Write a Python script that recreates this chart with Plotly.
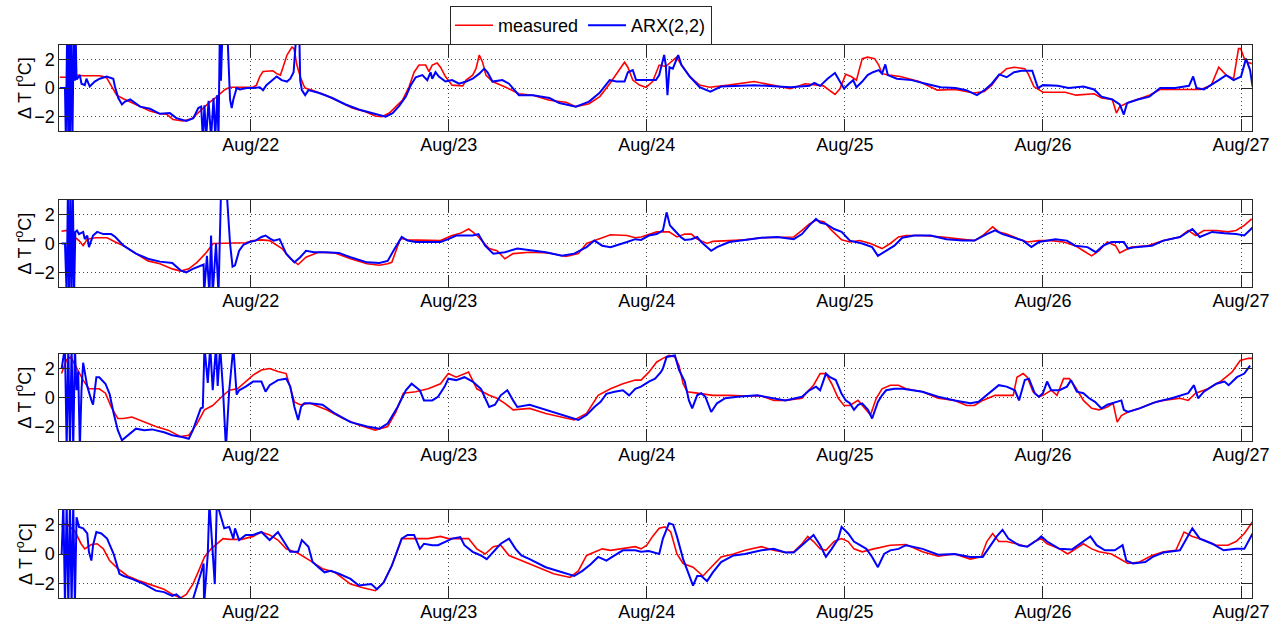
import datetime as dt
import plotly.graph_objects as go
from plotly.subplots import make_subplots

BASE = dt.datetime(2012, 8, 21, 0, 0)
X_RANGE_H = [0.81, 145.33]
Y_RANGE = [-3, 3]
Y_TICKS = [-2, 0, 2]
X_TICK_DAYS = [22, 23, 24, 25, 26, 27]
Y_TITLE = "Δ T [<sup>o</sup>C]"

# ---- panel 1 (hours since Aug/21 00:00, deg C) ----
p1_meas_h = [0.85,1.7,1.9,2.5,2.9,3.7,5.7,6.14,6.55,7.15,7.76,8.57,9.78,11.8,13.0,13.8,14.6,15.8,16.85,17.9,18.9,19.9,20.9,21.5,24.3,24.7,25.1,25.5,26.7,27.15,27.6,27.95,28.4,29.0,29.25,29.6,30.0,30.4,30.6,31.45,33.1,34.7,36.3,37.9,39.1,39.9,40.8,41.6,42.4,43.2,43.8,44.4,45.2,45.6,46.0,46.6,47.0,47.6,48.4,49.7,50.1,50.9,51.3,51.7,52.1,52.5,53.3,54.9,56.5,58.2,60.2,62.2,63.4,65.0,66.3,67.5,68.7,69.3,69.7,70.3,71.1,71.9,72.7,73.5,74.3,75.6,76.2,77.2,78.4,79.6,81.9,85.0,87.2,89.4,91.2,93.4,94.8,95.4,96.1,96.75,97.4,98.1,98.75,99.6,100.1,100.5,101.4,102.7,105.0,107.2,109.4,111.6,112.9,113.8,114.7,115.6,116.5,117.8,118.2,118.9,120.0,122.7,124.0,126.2,127.1,128.4,128.9,129.3,130.2,131.5,132.9,134.2,136.0,137.7,139.1,140.4,141.3,142.2,143.1,143.7,143.95,144.4,144.8,145.3]
p1_meas_v = [0.75,0.75,1.15,1.1,0.9,0.85,0.85,0.8,0.7,0.1,-0.5,-0.75,-1.05,-1.6,-1.8,-1.82,-2.2,-2.3,-2.15,-1.6,-1.05,-0.6,-0.1,0.05,0.05,0.2,0.8,1.15,1.2,1.0,0.9,1.5,2.3,2.85,2.75,1.6,0.8,0.2,0.0,-0.15,-0.5,-0.95,-1.4,-1.65,-1.95,-2.0,-1.75,-1.3,-0.85,0.1,1.1,1.6,1.6,1.15,1.6,1.75,1.45,0.8,0.2,0.15,0.55,0.9,1.35,2.3,1.8,0.9,0.45,0.05,-0.4,-0.5,-0.85,-1.0,-1.3,-1.1,-0.6,0.3,1.35,1.8,1.45,0.55,0.2,0.05,0.45,1.6,1.5,2.15,1.6,0.8,0.2,0.05,0.2,0.45,0.2,-0.05,0.3,0.15,-0.45,-0.05,0.95,0.8,0.55,2.05,2.15,2.05,1.6,1.0,0.9,0.8,0.45,-0.15,-0.1,-0.35,-0.25,0.2,0.9,1.35,1.45,1.35,1.0,0.1,-0.3,-0.3,-0.5,-0.4,-0.7,-0.8,-1.75,-1.3,-1.05,-0.8,-0.5,-0.1,-0.1,-0.15,-0.1,0.2,1.45,0.9,0.65,2.75,2.75,2.05,1.8,1.7]
p1_arx_h = [0.85,1.5,1.6,1.75,1.9,2.0,2.1,2.25,2.4,2.55,2.7,2.8,2.9,3.0,3.3,3.5,3.9,4.1,4.5,5.1,5.7,6.55,7.35,7.55,7.96,8.4,8.77,9.4,10.6,11.8,13.0,14.2,15.0,16.2,17.05,17.65,18.0,18.2,18.4,18.6,18.9,19.2,19.5,19.7,19.95,20.1,20.25,20.4,20.55,21.2,21.5,21.7,21.9,22.3,22.7,23.5,24.3,25.1,25.5,25.9,27.15,27.75,28.4,28.8,29.2,29.5,29.9,30.0,30.2,30.6,31.0,32.3,33.9,35.5,37.1,38.7,40.35,41.2,42.0,42.8,43.4,44.0,44.8,45.4,45.8,46.0,46.4,46.8,47.6,48.4,49.25,50.1,50.9,51.7,52.3,52.7,53.3,54.5,55.3,56.5,58.2,60.2,61.4,63.4,65.0,66.25,67.5,68.3,69.3,69.7,70.3,70.7,71.9,73.1,73.5,74.1,74.3,74.5,74.75,75.15,75.8,76.2,77.2,78.4,79.7,81.0,85.0,87.2,89.4,91.7,92.3,93.0,93.9,94.8,95.4,95.9,96.5,97.0,97.4,98.1,98.75,99.4,100.1,100.5,100.9,101.2,102.3,104.1,105.8,107.6,109.4,110.7,112.0,112.9,113.8,114.7,115.6,116.5,117.4,118.7,119.4,120.0,121.8,123.1,124.9,126.2,127.1,128.4,129.3,129.8,130.2,131.5,132.9,134.2,136.0,137.7,138.2,138.6,139.5,140.4,141.3,142.2,143.1,144.0,144.6,145.1,145.4]
p1_arx_v = [0,0,-3.5,3.5,-3.5,3.5,-3.5,3.5,-3.5,3.5,0.5,3.5,0.6,0.65,0.9,0.3,0.2,0.65,0.1,0.45,0.65,0.8,0.65,0.1,-0.7,-1.15,-0.95,-0.8,-1.3,-1.45,-1.8,-1.75,-2.1,-2.3,-2.1,-1.4,-1.3,-3.5,-1.2,-3.5,-0.9,-3.5,-0.7,-3.5,-0.5,-3.5,3.5,0.5,3.5,3.5,-0.8,-1.4,-0.8,0,-0.1,0,0,0.05,-0.15,0.2,0.8,0.55,0.45,0.65,1.1,3.5,3.5,0.55,-0.15,-0.5,-0.15,-0.35,-0.7,-1.15,-1.5,-1.75,-2.0,-1.75,-1.25,-0.6,0.2,0.75,0.9,0.55,1.1,0.65,1.1,0.8,0.45,0.55,0.3,0.45,0.65,1.0,1.35,1.1,0.45,0.55,0.3,-0.5,-0.5,-0.7,-1.05,-1.3,-0.95,-0.35,0.55,0.45,0.45,1.1,1.25,0.55,0.55,0.55,0.9,2.3,1.6,-0.5,1.45,1.35,2.3,1.6,0.8,0.05,-0.25,0.1,0.2,0.15,0.05,0.15,0.35,0.15,0.65,1.05,0.45,-0.05,0.3,0.55,0.05,0.45,0.9,1.1,1.25,1.0,1.65,0.9,0.65,0.55,0.3,0.05,0,-0.15,-0.5,-0.15,0.3,0.95,0.75,1.1,1.2,1.2,0,0.2,0.15,0,0.1,-0.1,-0.6,-0.8,-1.15,-1.85,-1.05,-0.8,-0.6,0,0,0.15,0.8,0,-0.1,0.2,0.55,0.9,0.55,0.8,2.05,1.25,0.1]

# ---- panel 2 ----
p2_meas_h = [1.08,1.7,2.46,3.2,3.7,4.2,5.2,6.6,7.6,8.6,10.1,11.55,13.0,14.5,15.5,16.5,17.5,18.5,19.45,20.4,21.4,22.4,23.4,24.3,25.3,26.3,27.8,28.8,29.75,30.7,32.2,34.2,36.1,38.1,39.6,40.6,41.1,42.05,42.3,43.0,45.5,47.0,48.4,49.4,50.4,50.9,51.6,52.9,53.85,54.8,55.8,57.8,60.2,62.2,63.7,64.7,66.1,67.6,69.6,70.6,71.3,72.25,73.2,74.7,75.65,76.6,77.4,78.1,79.3,80.0,82.0,83.9,85.9,87.8,89.8,90.8,91.7,92.5,93.45,94.4,95.6,96.6,97.8,99.1,100.5,101.5,102.5,103.4,105.4,107.8,110.3,111.7,112.7,113.9,114.65,115.6,117.1,118.1,119.5,121.0,122.5,123.9,124.9,125.9,126.8,127.8,128.8,129.3,129.8,130.7,132.7,134.6,136.6,137.6,138.5,139.5,141.0,142.4,143.4,144.4,145.3]
p2_meas_v = [0.85,0.9,0.55,0.2,-0.15,0.3,0.4,0.4,0.1,-0.15,-0.7,-1.2,-1.4,-1.75,-1.9,-1.75,-1.3,-0.7,0,0,0,0.05,0.05,0.2,0.25,0.2,-0.35,-1.05,-1.45,-0.95,-0.6,-0.65,-1.05,-1.4,-1.5,-1.4,-1.3,0.2,0.35,0.25,0.25,0.2,0.55,0.7,1.0,0.8,0.45,-0.35,-0.5,-1.05,-0.7,-0.6,-0.65,-0.9,-0.7,0,0.3,0.6,0.55,0.4,0.45,0.65,0.8,0.8,0.45,0.65,0.65,0.3,0,0.15,0.2,0.25,0.4,0.4,0.45,0.9,1.35,1.6,1.5,0.9,0.25,0.1,0.2,0,-0.35,0,0.45,0.55,0.55,0.45,0.3,0.2,0.55,1.15,0.8,0.65,0.3,0.1,0.2,0.2,0.1,-0.15,-0.5,-0.85,-0.5,0.1,-0.15,-0.65,-0.5,-0.25,-0.15,0.2,0.45,0.9,0.55,0.9,0.9,0.8,0.9,1.25,1.7]
p2_arx_h = [1.08,1.5,1.7,1.85,2.0,2.15,2.3,2.45,2.6,2.75,2.95,3.2,3.7,3.9,4.2,4.4,4.9,5.4,6.15,7.1,7.6,8.6,10.1,11.55,13.0,14.5,15.5,16.2,17.0,17.95,18.3,18.35,18.7,19.0,19.2,19.4,19.8,20.1,20.4,21.1,21.5,21.8,22.1,22.6,23.1,23.85,24.6,25.3,25.8,26.3,26.8,27.5,28.3,29.3,30.0,30.7,31.7,33.2,34.7,36.1,38.1,39.6,40.6,41.3,42.3,43.0,44.0,45.5,47.0,47.95,48.9,49.9,50.9,51.6,52.4,53.4,54.8,56.3,57.8,59.75,61.7,63.2,64.7,65.65,66.6,67.6,69.6,70.6,71.3,72.25,73.2,73.95,74.4,74.8,75.2,76.1,76.6,77.4,78.1,78.6,79.8,80.5,82.0,83.45,85.9,87.8,89.8,90.8,91.7,92.5,93.0,93.7,94.7,95.6,96.6,98.1,99.3,100.0,101.0,102.0,102.95,104.4,106.4,108.3,110.3,111.7,113.2,114.2,115.1,116.1,117.6,118.6,119.5,121.5,122.9,123.9,125.4,126.4,127.3,128.3,129.8,130.3,131.2,133.2,134.6,136.6,138.1,139.0,140.5,142.0,143.4,144.4,145.4]
p2_arx_v = [0,0,-3.5,3.5,-3.5,3.5,-3.5,3.5,-3.5,0.8,0.9,0.65,0.8,0.3,0.55,-0.25,0.55,0.8,0.65,0.65,0.45,-0.15,-0.7,-1.05,-1.25,-1.35,-1.85,-2.0,-1.75,-1.5,-1.45,-3.5,-0.85,-3.5,0.55,-3.5,0.0,-3.5,3.5,3.5,0,-1.6,-1.5,-0.5,-0.1,0.1,0.2,0.45,0.55,0.35,0.2,0.3,-0.7,-1.3,-0.95,-0.5,-0.6,-0.6,-0.65,-0.95,-1.3,-1.35,-1.2,-0.5,0.45,0.2,0.1,0.1,0.1,0.3,0.55,0.55,0.55,0.65,-0.15,-0.7,-0.6,-0.35,-0.45,-0.6,-0.85,-0.7,-0.25,0.2,-0.15,-0.25,0.1,0.3,0.25,0.55,0.65,0.9,2.15,1.25,1.0,0.45,0.25,0.3,0.45,0.1,-0.5,-0.25,0.1,0.2,0.4,0.45,0.3,0.65,1.25,1.7,1.45,1.35,1.0,0.8,0.2,0,-0.25,-0.85,-0.5,-0.15,0.4,0.55,0.55,0.3,0.2,0.2,0.65,0.9,0.65,0.45,0.2,-0.25,0.1,0.3,0.2,-0.15,-0.25,-0.6,-0.15,0.1,0.1,-0.35,-0.25,-0.15,0.2,0.45,1.0,0.45,0.8,0.7,0.65,0.55,1.1]

# ---- panel 3 ----
p3_meas_h = [1.08,1.7,2.2,2.7,3.7,4.4,5.65,6.4,7.1,7.9,8.6,9.6,11.1,12.5,14.0,15.5,16.5,17.5,18.4,19.4,20.4,21.4,22.4,23.4,24.3,25.3,26.3,27.3,28.3,29.3,30.0,31.2,33.2,35.2,37.1,39.1,40.6,41.6,42.5,44.0,45.5,47.0,47.95,48.9,50.4,51.4,52.9,53.85,54.8,55.8,57.8,59.75,61.7,63.2,64.7,66.1,67.6,69.1,70.6,71.3,72.25,73.2,73.95,74.7,75.4,75.9,76.4,76.9,78.1,80.0,82.0,83.9,85.9,87.4,88.8,90.8,91.3,92.2,93.0,93.7,94.4,95.2,95.9,96.6,97.6,98.3,99.1,99.8,100.5,101.5,102.5,103.4,105.4,107.3,109.3,110.75,111.7,112.7,114.2,116.4,116.85,117.6,118.1,118.8,119.5,120.0,121.0,121.7,122.5,123.2,123.9,124.9,125.9,126.8,127.8,128.5,129.0,129.5,130.3,131.7,133.2,134.6,136.6,137.6,138.5,140.0,141.5,142.9,143.9,144.9,145.4]
p3_meas_v = [1.65,2.6,2.8,2.25,1.2,0.6,0.6,0.3,-0.65,-1.45,-1.45,-1.35,-1.7,-2.0,-2.25,-2.7,-2.6,-1.8,-0.85,-0.55,0,0.5,0.6,1.1,1.55,1.9,2.0,1.8,1.65,-0.3,-0.5,-0.4,-0.85,-1.45,-1.9,-2.25,-2.0,-1.0,0.3,0.4,0.6,0.95,1.65,1.4,1.75,0.6,0.15,-0.05,-0.4,-0.85,-0.75,-1.1,-1.35,-1.55,-1.1,0.15,0.6,0.95,1.2,1.2,1.75,2.45,2.7,2.9,2.8,2.2,0.95,0.4,0.3,0.15,0.15,0.1,0.1,-0.2,-0.2,-0.05,0.3,0.85,1.65,1.65,0.95,-0.05,-0.55,-0.55,-0.2,-0.65,-1.2,-0.05,0.6,0.85,0.85,0.6,0.4,-0.05,-0.2,-0.55,-0.55,-0.2,0.15,0.15,1.4,1.65,1.4,0.4,0.05,0.15,0.5,0.15,1.3,1.3,0.75,-0.2,-0.75,-0.85,-0.65,-0.4,-1.7,-1.25,-1.0,-0.75,-0.4,-0.2,-0.05,-0.2,0.3,0.6,1.1,1.75,2.55,2.7,2.7]
p3_arx_h = [1.1,1.5,1.7,1.9,2.1,2.3,2.5,2.7,2.9,3.1,3.3,3.5,3.7,4.2,4.7,4.9,5.3,5.65,6.4,6.9,7.4,7.9,8.4,9.1,10.1,11.1,12.05,13.5,14.5,15.5,16.5,17.0,17.95,18.2,18.4,18.8,19.1,19.4,19.8,20.0,20.3,20.65,21.0,21.4,21.9,22.3,22.6,23.4,23.85,24.3,25.3,25.8,26.3,27.3,28.3,28.8,29.3,29.75,30.1,30.5,31.2,32.7,34.2,36.1,38.1,39.6,40.6,41.8,42.8,43.5,44.5,45.0,46.0,46.7,47.5,47.95,48.9,49.9,50.9,51.9,52.9,53.6,54.3,55.1,55.8,56.3,57.8,59.75,61.7,63.7,64.7,65.65,66.4,67.1,68.1,69.1,69.85,70.6,71.3,72.25,73.0,73.7,73.95,74.4,75.4,75.9,76.6,77.1,77.5,78.1,78.6,79.1,79.8,80.5,81.5,83.0,85.4,87.35,88.8,90.8,91.7,92.5,93.0,93.7,94.2,94.9,95.6,96.1,96.6,97.1,97.6,98.1,98.8,99.3,100.0,100.5,101.0,102.0,103.0,105.4,107.3,109.3,111.2,112.2,113.7,114.65,115.6,116.6,117.1,117.8,118.3,119.0,119.5,120.0,120.5,121.0,122.0,122.9,123.4,124.1,124.9,125.6,126.3,127.1,127.8,128.8,129.5,129.8,130.3,131.7,133.7,135.6,137.6,138.3,138.8,139.5,141.0,142.0,142.5,143.5,144.4,145.1]
p3_arx_v = [2.0,3.5,-3.5,3.5,-3.5,3.5,-3.5,3.5,0.5,1.8,-3.5,0.5,2.4,0.75,-0.2,-0.5,1.4,1.4,0.95,0.25,-1.1,-2.25,-2.95,-2.6,-2.15,-2.25,-2.2,-2.4,-2.6,-2.7,-2.85,-2.25,-0.75,-0.7,3.5,1.0,3.5,0.5,3.5,0.8,3.5,0.5,-3.5,0.5,3.5,0.2,0.5,0.75,0.95,1.1,1.1,0.4,0.85,1.2,1.3,0.75,-0.65,-1.55,-0.65,-0.4,-0.4,-0.5,-1.1,-1.7,-2.0,-2.15,-1.8,-0.65,0.5,0.95,0.5,-0.2,-0.2,0.05,0.75,1.3,1.2,1.4,1.1,0.6,-0.65,-0.5,0.15,0.5,-0.2,-0.65,-0.5,-0.85,-1.2,-1.55,-1.2,-0.65,-0.3,0.25,0.4,0.5,0.15,0.6,0.75,1.1,1.3,1.75,2.0,2.8,2.9,1.9,1.1,-0.2,-0.75,0.15,0.3,0.05,-1.0,-0.4,-0.05,0.05,0.15,-0.05,-0.2,0.05,0.5,0.75,0.5,1.65,1.4,1.2,0.25,-0.2,-0.4,-0.85,-0.5,-0.4,-0.85,-1.45,-0.3,0.15,0.5,0.6,0.6,0.4,0.05,-0.2,-0.4,-0.3,0.4,0.85,0.75,0.5,-0.2,1.2,1.3,0.3,0.05,0.3,1.1,0.5,0.5,0.75,1.2,0.4,0.3,-0.05,-0.3,-0.75,-0.5,-0.3,-0.2,-0.85,-1.0,-0.75,-0.3,-0.05,0.3,0.85,-0.05,0.4,0.95,1.1,0.85,1.4,1.65,2.2]

# ---- panel 4 ----
p4_meas_h = [1.08,1.5,2.0,2.7,3.45,3.9,4.7,5.4,6.15,6.9,7.9,9.1,10.6,12.05,13.5,14.5,15.5,16.2,17.0,17.7,18.4,19.2,19.9,20.65,21.4,22.9,24.3,25.3,26.3,27.3,28.3,29.75,31.2,32.7,34.2,36.1,37.6,39.1,40.1,41.1,42.3,43.5,45.5,47.0,47.95,50.4,51.4,52.4,53.4,54.3,55.3,56.8,58.8,60.7,62.7,63.7,64.7,65.65,66.6,67.6,69.1,70.6,71.3,72.0,72.7,73.5,74.2,74.9,75.65,76.4,77.6,78.8,79.8,81.0,82.5,83.9,85.9,87.35,88.8,89.8,90.8,91.5,92.2,93.0,93.7,94.7,95.6,96.4,97.1,98.1,99.5,101.5,103.4,105.4,107.3,109.3,111.2,112.5,113.2,113.9,114.65,115.6,117.1,118.1,119.0,119.8,120.5,122.0,123.0,123.9,124.9,125.9,126.8,128.3,129.3,130.3,131.7,133.2,134.6,136.1,137.1,138.1,139.5,141.0,142.4,143.4,144.4,145.4]
p4_meas_v = [1.85,2.05,1.9,1.55,0.7,0.35,0.65,0.7,0.35,-0.45,-1.0,-1.5,-1.85,-2.15,-2.4,-2.75,-3.0,-2.75,-2.05,-1.15,-0.2,0.35,0.7,1.05,1.0,1.0,1.2,1.5,1.3,0.95,0.35,0.05,-0.45,-1.0,-1.25,-2.05,-2.3,-2.5,-1.95,-0.8,1.05,1.05,1.05,1.2,1.05,1.05,0.35,0,0.5,0.6,-0.1,-0.45,-0.9,-1.35,-1.6,-1.15,-0.1,0.15,0.35,0.25,0.35,0.5,0.35,0.6,1.2,1.75,1.85,1.5,0,-0.65,-0.9,-1.5,-0.9,-0.2,0,0.25,0.5,0.25,0.1,0.15,0.7,1.2,0.85,0.35,0.25,0.85,1.05,0.85,0.35,0.15,0.35,0.6,0.65,0.15,-0.15,0,-0.35,-0.2,0.85,1.4,0.85,0.85,0.65,0.5,0.85,1.05,0.7,0.35,0,0.35,0.7,0.35,0.15,0,-0.35,-0.65,-0.55,-0.1,0.15,0.25,1.5,1.2,0.95,0.6,0.6,0.85,1.4,2.2]
p4_arx_h = [1.1,1.3,1.5,1.7,1.9,2.1,2.3,2.5,2.7,2.9,3.2,3.7,4.2,4.4,4.7,4.9,5.3,5.9,6.6,7.4,8.1,8.6,9.6,11.1,12.5,13.5,14.5,15.0,15.7,17.0,17.95,18.3,18.35,18.6,18.8,19.0,19.3,19.65,19.9,20.3,20.8,21.4,21.9,22.1,22.6,23.4,24.3,25.3,26.3,27.3,28.0,28.8,29.75,30.2,31.0,31.5,32.2,32.95,33.7,34.7,36.1,37.1,38.6,39.3,40.1,41.1,42.3,43.0,43.8,44.5,45.0,46.0,46.7,47.5,48.4,49.4,49.9,50.9,51.9,52.6,53.4,54.3,55.3,56.1,56.8,57.8,59.75,61.7,63.2,64.2,65.2,66.1,67.1,68.1,69.1,70.6,71.3,72.25,73.5,73.95,74.7,75.2,75.65,76.4,77.1,77.6,78.1,78.6,79.3,80.0,81.0,82.5,83.9,85.9,87.35,88.8,89.8,90.8,91.5,92.2,93.0,93.7,94.4,95.2,95.6,96.4,97.1,97.8,98.6,99.3,100.0,100.75,101.5,102.5,103.4,105.4,107.3,109.3,111.2,112.7,113.7,114.4,115.1,115.8,117.1,118.1,119.3,119.8,120.5,122.0,123.5,124.5,125.75,126.5,127.5,128.7,129.65,130.1,130.9,132.4,133.3,134.6,136.6,138.1,139.0,140.5,141.9,143.4,144.4,145.4]
p4_arx_v = [0,3.5,-3.5,3.5,-3.5,3.5,-3.5,3.5,-3.5,2.5,1.85,1.75,1.4,0.15,-0.45,0.6,1.5,1.4,1.05,0,-1.35,-1.5,-1.7,-2.05,-2.5,-2.6,-2.85,-2.75,-3.1,-3.1,-1.35,-0.65,-3.5,-1.5,0.0,3.5,1.1,-2.05,3.5,2.7,1.75,1.85,1.05,1.75,0.95,1.3,1.3,1.5,0.95,1.5,0.85,0.15,0.15,0.95,0.5,-0.55,-0.9,-1.25,-1.15,-1.35,-1.7,-2.15,-2.05,-2.4,-1.95,-0.8,1.05,1.3,1.3,0.35,0.7,0.6,0.6,0.8,1.05,1.15,0.6,0.15,-0.1,-0.35,0.15,0.7,1.05,0.35,-0.1,-0.35,-0.9,-1.25,-1.5,-1.15,-0.7,-0.2,-0.45,-0.1,0.25,0.25,0.15,0.2,0,1.05,2.1,2.0,1.2,-0.35,-1.35,-2.15,-1.5,-1.5,-1.85,-1.25,-0.55,-0.1,0,0.25,0.35,0.1,0.1,0.6,0.95,1.3,0.6,-0.2,0.35,1.05,1.85,1.4,0.85,0.6,0.35,-0.2,-0.9,0,0.25,0.35,0.6,0.35,-0.05,0,-0.2,-0.2,0.6,1.2,1.65,1.05,0.6,0.5,0.95,1.2,0.85,0.35,0.3,0.7,1.2,0.6,0.25,0.25,0.6,-0.45,-0.65,-0.55,-0.2,0.1,0.25,1.75,1.05,0.7,0.25,0.35,0.35,1.4]

PANELS = [
    (p1_meas_h, p1_meas_v, p1_arx_h, p1_arx_v),
    (p2_meas_h, p2_meas_v, p2_arx_h, p2_arx_v),
    (p3_meas_h, p3_meas_v, p3_arx_h, p3_arx_v),
    (p4_meas_h, p4_meas_v, p4_arx_h, p4_arx_v),
]
SERIES_NAMES = ["measured", "ARX(2,2)"]
SERIES_COLORS = ["#ff0000", "#0000ff"]

W, H = 1272, 621
X_DOM = [59.3 / W, 1252 / W]
PANEL_PX = [(45, 131), (200, 287), (354, 441), (510, 598)]

def to_time(hours):
    return [BASE + dt.timedelta(hours=h) for h in hours]

FONT = "Arial, Liberation Sans, Helvetica, sans-serif"
AX = "#262626"

fig = make_subplots(rows=4, cols=1)
for i, (mh, mv, ah, av) in enumerate(PANELS):
    r = i + 1
    fig.add_trace(go.Scatter(x=to_time(mh), y=mv, mode="lines", name=SERIES_NAMES[0],
                             line=dict(color=SERIES_COLORS[0], width=1.6),
                             showlegend=(i == 0), legendgroup="m"), row=r, col=1)
    fig.add_trace(go.Scatter(x=to_time(ah), y=av, mode="lines", name=SERIES_NAMES[1],
                             line=dict(color=SERIES_COLORS[1], width=2),
                             showlegend=(i == 0), legendgroup="a"), row=r, col=1)

tickvals = [dt.datetime(2012, 8, d) for d in X_TICK_DAYS]
annotations = []
for i in range(4):
    top, bot = PANEL_PX[i]
    sfx = "" if i == 0 else str(i + 1)
    fig.layout["xaxis" + sfx].update(
        domain=X_DOM, type="date",
        range=to_time(X_RANGE_H),
        tickvals=tickvals, tickformat="%b/%d",
        ticks="inside", ticklen=12, tickwidth=1, tickcolor=AX,
        showline=True, linecolor=AX, linewidth=1, mirror="ticks",
        showgrid=True, gridcolor="#444444", griddash="1px,3px", gridwidth=1,
        zeroline=False, automargin=False, ticklabelstandoff=-3,
        tickfont=dict(family=FONT, size=18, color="#000000"),
    )
    fig.layout["yaxis" + sfx].update(
        domain=[(H - bot) / H, (H - top) / H],
        range=Y_RANGE, tickvals=Y_TICKS,
        ticks="inside", ticklen=11, tickwidth=1, tickcolor=AX,
        showline=True, linecolor=AX, linewidth=1, mirror="ticks",
        showgrid=True, gridcolor="#444444", griddash="1px,3px", gridwidth=1,
        zeroline=False, automargin=False,
        tickfont=dict(family=FONT, size=18, color="#000000"),
    )
    annotations.append(dict(
        text=Y_TITLE, textangle=-90, showarrow=False,
        xref="paper", yref="paper", x=24 / W, xanchor="center",
        y=(H - (top + bot) / 2) / H, yanchor="middle",
        font=dict(family=FONT, size=18, color="#000000"),
    ))

fig.update_layout(
    width=W, height=H,
    margin=dict(l=0, r=0, t=0, b=0, autoexpand=False),
    paper_bgcolor="white", plot_bgcolor="white",
    font=dict(family=FONT, size=18, color="#000000"),
    annotations=annotations,
    legend=dict(orientation="h", x=450 / W, xanchor="left", y=(H - 6) / H, yanchor="top",
                bgcolor="white", bordercolor=AX, borderwidth=1,
                font=dict(family=FONT, size=18, color="#000000"),
                itemwidth=38, tracegroupgap=0),
    showlegend=True,
)

fig.write_html("out.html")
